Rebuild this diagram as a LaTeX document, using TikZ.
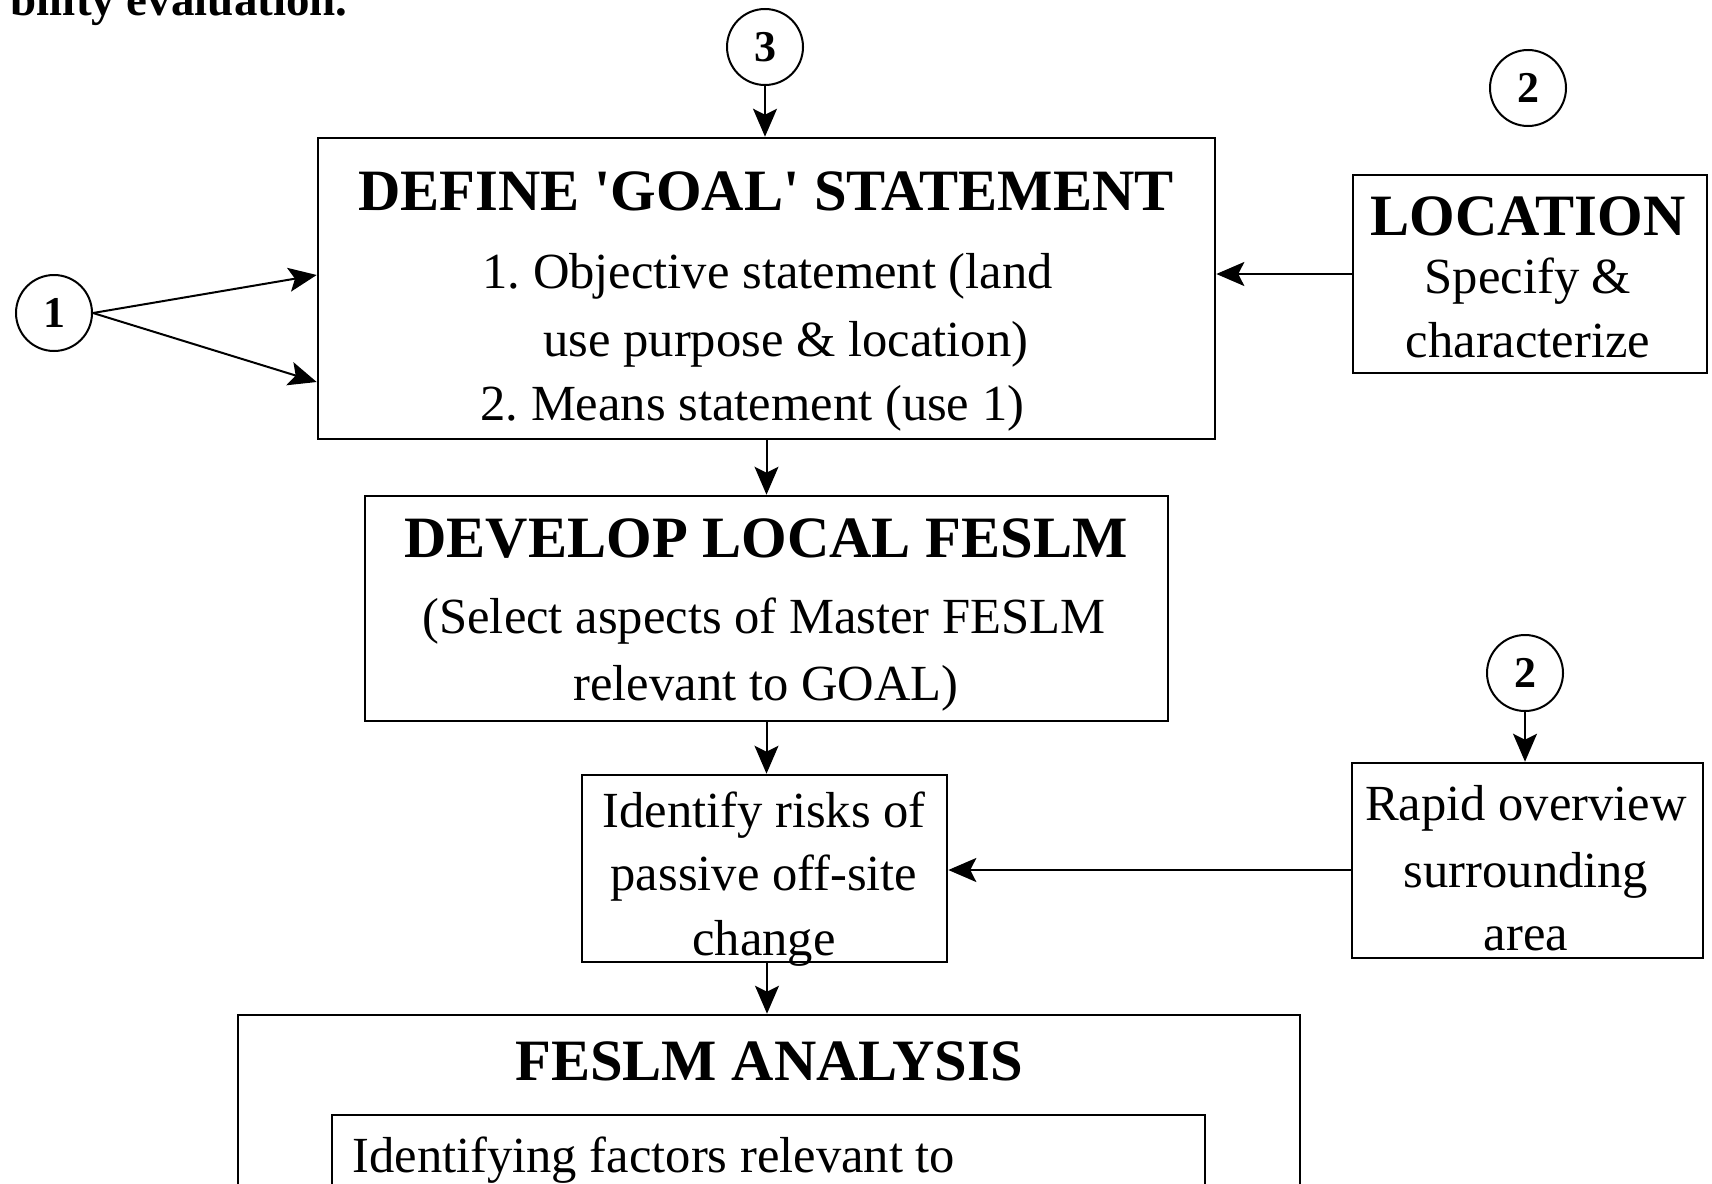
\documentclass[tikz,border=0pt]{standalone}
\usepackage{fontspec}
\setmainfont{Liberation Serif}
\usetikzlibrary{arrows.meta,fit}
\frenchspacing
\begin{document}
\begin{tikzpicture}[x=0.5pt,y=-0.5pt,
  box/.style={draw, line width=1.3pt, inner sep=0pt, fill=none},
  circ/.style={draw, circle, line width=1pt, minimum size=38pt, inner sep=0pt,
    font=\bfseries\fontsize{22}{26}\selectfont},
  ttl/.style={anchor=base, inner sep=0pt, font=\bfseries\fontsize{29.3}{34}\selectfont},
  txt/.style={anchor=base, inner sep=0pt, font=\fontsize{25.3}{33}\selectfont},
  txtl/.style={anchor=base west, inner sep=0pt, font=\fontsize{25.3}{33}\selectfont},
  arr/.style={line width=1pt, -{Stealth[length=14pt,width=12pt,inset=3pt]}}]
\useasboundingbox (0,0) rectangle (1712,1183);

% caption tail at the top edge
\node[anchor=base east, inner sep=0pt, font=\bfseries\fontsize{23.5}{28}\selectfont]
  (caption) at (348,15) {bility evaluation.};

% connector circles
\node[circ] (c3) at (765,47) {3};
\node[circ] (c1) at (54,313) {1};
\node[circ] (c2a) at (1528,88) {2};
\node[circ] (c2b) at (1525,673) {2};

% boxes
\node[box, fit={(318,138) (1215,439)}] (goal) {};
\node[box, fit={(1353,175) (1707,373)}] (loc) {};
\node[box, fit={(365,496) (1168,721)}] (develop) {};
\node[box, fit={(582,775) (947,962)}] (identify) {};
\node[box, fit={(1352,763) (1703,958)}] (rapid) {};
\node[box, fit={(238,1015) (1300,1260)}] (feslm) {};
\node[box, fit={(332,1115) (1205,1260)}] (factors) {};

% goal statement
\node[ttl] (goalT) at (766,210) {DEFINE \textquotesingle GOAL\textquotesingle{} STATEMENT};
\node[txtl] (goalA) at (482,288) {1. Objective statement (land};
\node[txtl] (goalB) at (543,356) {use purpose \& location)};
\node[txtl] (goalC) at (480,420) {2. Means statement (use 1)};

% location
\node[ttl] (locT) at (1528,235) {LOCATION};
\node[txt] (locA) at (1528,293) {Specify \&};
\node[txt] (locB) at (1528,357) {characterize};

% local model
\node[ttl] (devT) at (766,557) {DEVELOP LOCAL FESLM};
\node[txt] (devA) at (764,633) {(Select aspects of Master FESLM};
\node[txt] (devB) at (766,700) {relevant to GOAL)};

% off-site risks
\node[txt] (idA) at (764,827) {Identify risks of};
\node[txt] (idB) at (764,890) {passive off-site};
\node[txt] (idC) at (764,955) {change};

% surrounding area
\node[txt] (rapA) at (1526,820) {Rapid overview};
\node[txt] (rapB) at (1526,887) {surrounding};
\node[txt] (rapC) at (1526,950) {area};

% analysis
\node[ttl] (feslmT) at (769,1080) {FESLM ANALYSIS};
\node[txtl] (factA) at (352,1172) {Identifying factors relevant to};

% connectors
\draw[arr] (c3.south) -- (c3.south |- goal.north);
\draw[arr] (c1.east) -- (goal.west |- 0,275);
\draw[arr] (c1.east) -- (goal.west |- 0,382);
\draw[arr] (loc.west) -- (loc.west -| goal.east);
\draw[arr] (goal.south) -- (develop.north);
\draw[arr] (develop.south) -- (develop.south |- identify.north);
\draw[arr] (identify.south -| 767,0) -- (feslm.north -| 767,0);
\draw[arr] (c2b.south) -- (c2b.south |- rapid.north);
\draw[arr] (rapid.west |- 0,870) -- (identify.east |- 0,870);
\end{tikzpicture}
\end{document}
